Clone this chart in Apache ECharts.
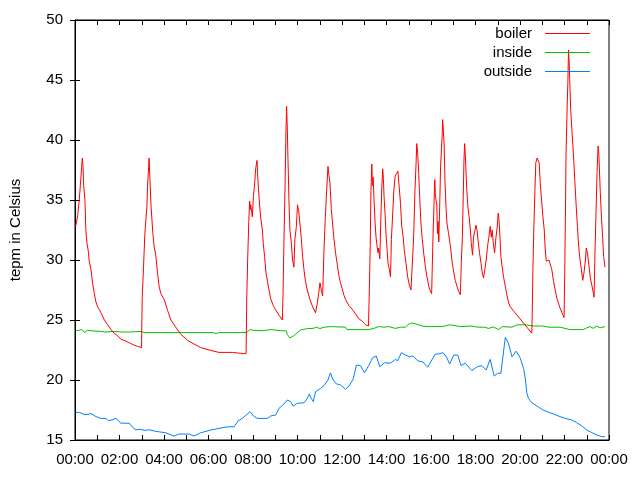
<!DOCTYPE html>
<html>
<head>
<meta charset="utf-8">
<script src="https://cdn.jsdelivr.net/npm/echarts@6/dist/echarts.min.js"></script>
<style>html,body{margin:0;padding:0;background:#fff}#c{width:640px;height:480px}</style>
</head>
<body>
<div id="c"></div>
<script>
// time in hours since 00:00
var boilerT = [0.03,0.12,0.19,0.24,0.30,0.33,0.36,0.39,0.45,0.49,0.54,0.60,0.64,0.72,0.79,0.87,0.94,1.02,1.17,1.32,1.47,1.62,1.76,1.91,2.06,2.21,2.44,2.66,2.81,2.99,
3.02,3.08,3.14,3.23,3.26,3.31,3.33,3.38,3.42,3.50,3.56,3.63,3.71,3.78,3.86,4.01,4.16,4.31,4.53,4.76,5.06,5.35,5.65,6.03,6.47,7.07,7.57,7.69,
7.72,7.76,7.81,7.85,7.88,7.90,7.97,8.02,8.08,8.12,8.18,8.22,8.28,8.34,8.42,8.46,8.52,8.58,8.65,8.72,8.79,8.91,9.03,9.17,9.32,
9.35,9.39,9.44,9.48,9.51,9.54,9.57,9.62,9.66,9.72,9.78,9.84,9.88,9.95,10.00,10.06,10.11,10.17,10.23,10.29,10.36,10.44,10.56,10.68,10.81,
10.89,10.95,11.01,11.07,11.13,11.19,11.25,11.31,11.37,11.41,11.46,11.52,11.58,11.63,11.71,11.79,11.86,11.93,12.01,12.08,12.16,12.31,12.46,12.61,12.76,12.91,13.06,13.19,
13.22,13.27,13.30,13.34,13.37,13.40,13.44,13.49,13.53,13.58,13.62,13.65,13.70,13.74,13.79,13.83,13.86,13.89,13.94,13.98,14.03,14.07,14.13,14.18,
14.22,14.28,14.33,14.39,14.45,14.51,14.57,14.63,14.68,14.75,14.80,14.88,14.95,15.03,15.10,15.16,
15.22,15.28,15.33,15.36,15.40,15.45,15.49,15.55,15.61,15.67,15.75,15.82,15.90,15.97,16.03,
16.05,16.09,16.14,16.17,16.20,16.26,16.29,16.32,16.35,16.39,16.43,16.50,16.52,16.55,16.59,16.63,16.68,16.72,16.79,16.87,16.94,17.02,17.09,17.17,17.24,17.32,
17.36,17.41,17.45,17.48,17.51,17.54,17.57,17.60,17.66,17.72,17.77,17.81,17.87,17.91,17.98,18.02,18.07,18.13,18.18,18.25,18.30,18.36,
18.42,18.48,18.54,18.60,18.66,18.71,18.75,18.80,18.86,18.92,18.98,19.02,19.05,19.10,19.14,19.20,19.26,19.34,19.41,19.48,19.56,19.60,
20.53,20.55,20.58,20.62,20.67,20.71,20.77,20.82,20.86,20.91,20.97,21.03,21.09,21.13,21.18,21.24,21.30,21.36,21.43,21.50,21.58,21.66,21.73,21.80,21.89,21.98,
22.01,22.04,22.07,22.12,22.15,22.18,22.21,22.24,22.28,22.34,22.40,22.46,22.52,22.58,22.64,22.70,22.76,22.82,22.88,22.94,22.98,23.03,23.07,23.12,23.16,23.23,23.28,23.33,
23.37,23.42,23.46,23.51,23.54,23.57,23.61,23.66,23.72,23.76,23.82];
var boilerV = [32.8,33.7,35.0,36.2,37.8,38.5,37.8,36.2,34.9,32.4,31.4,30.7,29.9,29.2,28.1,27.2,26.5,26.1,25.6,25.0,24.6,24.2,23.9,23.7,23.4,23.3,23.1,22.9,22.8,22.7,
26.8,29.4,32.2,34.4,36.1,37.8,38.5,36.1,34.4,32.2,31.1,30.4,28.9,27.8,27.2,26.7,25.8,25.0,24.4,23.8,23.3,23.0,22.7,22.5,22.3,22.3,22.2,22.2,
26.9,30.0,33.2,34.9,34.2,34.6,33.6,35.3,36.5,37.6,38.3,36.7,35.0,33.6,32.5,31.4,30.3,29.0,28.2,27.5,26.8,26.2,25.8,25.4,25.0,
27.2,31.5,36.1,40.6,42.8,41.1,38.6,34.7,32.5,31.5,30.0,29.4,31.7,32.8,34.6,34.0,33.0,31.8,30.3,29.2,28.2,27.5,26.7,26.1,25.6,
26.4,27.2,28.1,27.5,27.0,30.8,33.6,35.8,37.8,37.1,36.4,34.2,33.0,31.9,30.6,29.6,28.7,28.1,27.6,27.1,26.7,26.2,25.9,25.5,25.1,24.9,24.6,24.5,
26.8,31.2,35.8,38.0,36.2,36.9,35.0,33.0,31.9,31.1,30.6,31.0,30.1,33.0,36.1,37.6,36.8,35.3,33.7,32.1,30.8,29.7,29.2,28.6,
31.7,33.9,35.8,37.0,37.2,37.4,36.1,34.7,32.9,31.9,30.8,29.7,28.6,27.9,27.5,27.4,
31.9,35.8,38.1,39.7,38.9,37.2,35.3,33.0,31.7,30.6,29.4,28.6,27.8,27.4,27.2,
28.9,31.9,35.0,36.7,35.3,34.6,32.2,33.2,31.5,34.4,37.8,40.3,41.7,41.0,39.6,36.4,34.2,33.0,32.2,31.2,30.0,29.0,28.3,27.8,27.4,27.1,
29.7,31.9,35.3,38.2,39.7,38.9,37.5,36.1,34.4,33.5,32.5,31.4,30.4,31.9,32.5,32.9,32.5,31.4,30.6,29.7,29.0,28.5,
29.2,30.0,31.1,31.9,32.8,31.9,32.5,31.4,30.6,31.9,32.8,33.9,33.5,31.9,30.3,29.4,28.6,27.8,27.1,26.5,26.1,26.0,
23.9,25.6,29.2,32.5,35.8,38.1,38.5,38.6,38.1,36.4,35.0,33.6,32.5,31.0,29.9,30.0,30.0,30.1,29.2,28.3,27.5,26.8,26.4,26.0,25.6,25.2,
28.9,33.3,38.9,42.8,44.7,47.5,46.5,44.7,42.5,40.6,38.9,36.7,34.7,32.8,31.1,30.0,29.2,28.3,29.0,30.0,31.0,30.6,30.0,29.2,28.5,27.9,27.4,26.9,
30.6,34.2,37.2,39.5,39.0,37.5,35.6,33.6,31.7,30.3,29.4];

var insideT = [0.03,0.30,0.45,0.55,0.72,1.17,1.32,1.76,2.06,2.50,2.99,3.10,3.50,4.50,5.50,6.20,6.33,6.45,7.00,7.72,7.85,8.00,8.40,8.80,9.30,9.50,9.54,9.66,9.84,10.14,10.44,10.70,10.86,11.00,11.20,11.48,12.16,12.23,12.68,13.20,13.43,13.65,13.90,14.10,14.40,14.63,14.85,15.00,15.15,15.37,15.60,15.82,16.20,16.50,16.87,17.32,17.84,18.10,18.40,18.59,18.80,19.04,19.20,19.64,19.86,20.23,20.60,21.00,21.30,21.80,22.25,22.85,23.00,23.15,23.30,23.45,23.60,23.82];
var insideV = [24.1,24.2,23.95,24.15,24.1,24.05,24.0,24.05,24.0,24.0,24.05,23.95,23.95,23.95,23.95,23.95,23.88,23.95,23.95,23.95,24.2,24.15,24.1,24.2,24.1,24.1,23.8,23.5,23.7,24.17,24.28,24.3,24.4,24.28,24.4,24.45,24.4,24.2,24.2,24.2,24.3,24.45,24.4,24.45,24.3,24.4,24.4,24.65,24.75,24.65,24.5,24.45,24.45,24.45,24.6,24.45,24.5,24.4,24.4,24.3,24.42,24.2,24.45,24.4,24.6,24.6,24.5,24.5,24.4,24.4,24.2,24.2,24.35,24.45,24.3,24.5,24.35,24.45];

var outsideT = [0.03,0.20,0.45,0.72,0.94,1.17,1.40,1.50,1.70,1.84,2.06,2.44,2.59,2.74,2.95,3.11,3.35,3.63,4.08,4.46,4.68,5.13,5.35,5.65,6.10,6.47,6.85,7.15,7.33,7.52,7.87,8.04,8.20,8.65,8.79,9.02,9.17,9.39,9.54,9.69,9.81,9.99,10.29,10.44,10.53,10.62,10.71,10.81,11.04,11.22,11.37,11.48,11.60,11.75,11.93,12.16,12.31,12.50,12.65,12.83,13.01,13.20,13.38,13.54,13.70,13.91,14.18,14.40,14.50,14.67,14.85,15.04,15.19,15.40,15.64,15.85,16.05,16.20,16.35,16.54,16.69,16.84,17.02,17.20,17.35,17.54,17.84,18.07,18.29,18.48,18.66,18.84,18.99,19.14,19.34,19.48,19.64,19.83,20.01,20.16,20.23,20.31,20.38,20.53,20.76,20.98,21.21,21.50,21.73,22.03,22.33,22.55,22.78,23.00,23.23,23.45,23.67,23.82];
var outsideV = [17.3,17.3,17.1,17.2,16.95,16.8,16.8,16.6,16.7,16.8,16.4,16.4,16.05,15.85,15.9,15.8,15.85,15.72,15.6,15.33,15.5,15.5,15.33,15.6,15.83,15.97,16.1,16.1,16.6,16.8,17.36,16.97,16.8,16.8,17.0,17.08,17.64,18.0,18.33,18.2,17.83,18.06,18.1,18.47,18.83,18.47,18.2,19.03,19.3,19.6,20.0,20.6,20.0,19.67,19.6,19.22,19.5,20.06,21.25,21.2,20.6,21.2,21.86,22.0,21.1,21.44,21.4,21.72,21.6,22.28,22.08,21.94,22.0,21.6,21.5,21.06,21.72,22.17,22.17,22.28,21.94,21.33,22.08,22.08,21.2,21.4,20.78,21.1,21.2,20.83,21.72,20.33,20.56,20.56,23.56,23.06,21.94,22.4,21.83,20.97,20.2,18.9,18.47,18.11,17.83,17.56,17.36,17.17,17.0,16.8,16.67,16.44,16.17,15.83,15.61,15.42,15.28,15.28];

var yTicks = [15,20,25,30,35,40,45,50];
var seriesNames = ['boiler','inside','outside'];

function zip(t, v){ var r=[]; for(var i=0;i<t.length;i++) r.push([t[i], v[i]]); return r; }
function fmtHour(h){ if (h % 2 !== 0) return ''; var hh = h % 24; return (hh<10?'0':'')+hh+':00'; }

var FONT = 'Liberation Sans';
var chart = echarts.init(document.getElementById('c'), null, {renderer:'canvas'});
var xBase = {type:'value', min:0, max:24, interval:1,
  axisLine:{show:true, lineStyle:{color:'#000', width:1}},
  axisTick:{show:true, inside:true, length:5, lineStyle:{color:'#000'}},
  splitLine:{show:false}};
var yBase = {type:'value', min:yTicks[0], max:yTicks[yTicks.length-1], interval:5,
  axisLine:{show:true, lineStyle:{color:'#000', width:1}},
  axisTick:{show:true, inside:true, length:5, lineStyle:{color:'#000'}},
  splitLine:{show:false}};
chart.setOption({
  animation:false,
  backgroundColor:'#fff',
  textStyle:{fontFamily:FONT},
  grid:{left:74, right:31, top:20, bottom:40, show:true, borderColor:'#000', borderWidth:1, containLabel:false},
  legend:{
    orient:'vertical', right:45, top:21, align:'right', itemWidth:45, itemHeight:1, itemGap:4,
    icon:'rect',
    data:seriesNames,
    textStyle:{fontFamily:FONT, fontSize:15, lineHeight:15, color:'#000', padding:[0,8,0,0]}
  },
  xAxis:[
    Object.assign({}, xBase, {position:'bottom', axisLabel:{show:true, formatter:fmtHour, margin:12, fontSize:15, color:'#000', fontFamily:FONT, showMinLabel:true, showMaxLabel:true}}),
    Object.assign({}, xBase, {position:'top', axisLabel:{show:false}})
  ],
  yAxis:[
    Object.assign({}, yBase, {position:'left', name:'tepm in Celsius', nameLocation:'middle', nameGap:52,
      nameTextStyle:{fontSize:15, color:'#000', fontFamily:FONT},
      axisLabel:{show:true, margin:12, fontSize:15, color:'#000', fontFamily:FONT}}),
    Object.assign({}, yBase, {position:'right', axisLabel:{show:false}})
  ],
  series:[
    {name:seriesNames[0], type:'line', data:zip(boilerT, boilerV), showSymbol:false, symbol:'none', color:'#ff0000', lineStyle:{width:1, color:'#ff0000'}, z:3},
    {name:seriesNames[1], type:'line', data:zip(insideT, insideV), showSymbol:false, symbol:'none', color:'#00c000', lineStyle:{width:1, color:'#00c000'}, z:2},
    {name:seriesNames[2], type:'line', data:zip(outsideT, outsideV), showSymbol:false, symbol:'none', color:'#0080ff', lineStyle:{width:1, color:'#0080ff'}, z:1}
  ]
});
</script>
</body>
</html>
